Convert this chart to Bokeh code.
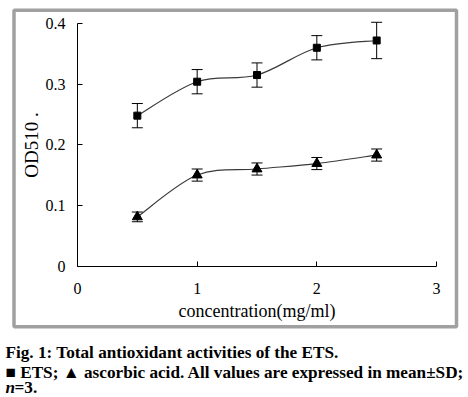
from bokeh.plotting import figure
from bokeh.models import (Range1d, Whisker, TeeHead, ColumnDataSource, Label,
                          FixedTicker, NumeralTickFormatter)
from bokeh.embed import file_html
from bokeh.resources import INLINE

# ---- data ----
conc = [0.5, 1.0, 1.5, 2.0, 2.5]
ets_mean = [0.248, 0.304, 0.315, 0.360, 0.372]
ets_sd = [0.020, 0.020, 0.020, 0.020, 0.030]
asc_mean = [0.081, 0.150, 0.160, 0.169, 0.183]
asc_sd = [0.008, 0.010, 0.010, 0.010, 0.010]
x_ticks = [0, 1, 2, 3]
y_ticks = [0, 0.1, 0.2, 0.3, 0.4]
x_label = "concentration(mg/ml)"
y_label = "OD510 ."
caption1 = "Fig. 1: Total antioxidant activities of the ETS."
caption2 = "\u25a0 ETS; \u25b2 ascorbic acid. All values are expressed in mean\u00b1SD;"
caption3a = "n"
caption3b = "=3."

SERIF = "Liberation Serif"

# ---- layout (canvas pixels) ----
W, H = 468, 397
AX_LEFT, AX_RIGHT = 77.0, 436.0     # pixel of x=0 and x=3
AX_BOTTOM, AX_TOP = 265.5, 23.0     # pixel of y=0 and y=0.4
X0, X1 = x_ticks[0], x_ticks[-1]
Y0, Y1 = y_ticks[0], y_ticks[-1]
sx = (AX_RIGHT - AX_LEFT) / (X1 - X0)
sy = (AX_BOTTOM - AX_TOP) / (Y1 - Y0)
x_range = Range1d(X0 - AX_LEFT / sx, X1 + (W - AX_RIGHT) / sx)
y_range = Range1d(Y0 - (H - AX_BOTTOM) / sy, Y1 + AX_TOP / sy)


def px_x(px):
    return X0 + (px - AX_LEFT) / sx


def px_y(py):
    return Y0 + (AX_BOTTOM - py) / sy


p = figure(width=W, height=H, output_backend="svg", toolbar_location=None,
           title=None, x_range=x_range, y_range=y_range,
           min_border_left=0, min_border_right=0, min_border_top=0,
           min_border_bottom=0)
p.outline_line_color = None
p.grid.visible = False
p.background_fill_color = "white"
p.border_fill_color = "white"

for ax in (p.xaxis[0], p.yaxis[0]):
    ax.fixed_location = 0
    ax.axis_line_color = "black"
    ax.axis_line_width = 1
    ax.major_tick_in = 5
    ax.major_tick_out = 0
    ax.minor_tick_line_color = None
    ax.major_tick_line_color = "black"
    ax.major_label_text_font = SERIF
    ax.major_label_text_font_size = "16px"
    ax.major_label_text_color = "black"
    ax.axis_label_text_font = SERIF
    ax.axis_label_text_font_style = "normal"
    ax.axis_label_text_color = "black"

p.xaxis.bounds = (X0, X1)
p.yaxis.bounds = (Y0, Y1)
p.xaxis.ticker = FixedTicker(ticks=x_ticks)
p.yaxis.ticker = FixedTicker(ticks=y_ticks)
p.yaxis.formatter = NumeralTickFormatter(format="0.[0]")
p.xaxis.axis_label = x_label
p.yaxis.axis_label = y_label
p.xaxis.axis_label_text_font_size = "18px"
p.yaxis.axis_label_text_font_size = "19px"
p.xaxis.major_label_standoff = 17
p.yaxis.major_label_standoff = 12
p.xaxis.axis_label_standoff = 3
p.yaxis.axis_label_standoff = 1

# gray frame around the chart panel (decoration, drawn first)
p.quad(left=[px_x(13.5)], right=[px_x(456)], top=[px_y(9.7)],
       bottom=[px_y(326.2)], fill_alpha=0, line_color="#a0a0a0", line_width=3.5)


def smooth(xs, ys):
    """Catmull-Rom style bezier segments through the given points."""
    n = len(xs)
    x0, y0, x1, y1, cx0, cy0, cx1, cy1 = [], [], [], [], [], [], [], []
    for i in range(n - 1):
        pa = max(i - 1, 0)
        pd = min(i + 2, n - 1)
        x0.append(xs[i]); y0.append(ys[i])
        x1.append(xs[i + 1]); y1.append(ys[i + 1])
        cx0.append(xs[i] + (xs[i + 1] - xs[pa]) / 6)
        cy0.append(ys[i] + (ys[i + 1] - ys[pa]) / 6)
        cx1.append(xs[i + 1] - (xs[pd] - xs[i]) / 6)
        cy1.append(ys[i + 1] - (ys[pd] - ys[i]) / 6)
    return dict(x0=x0, y0=y0, x1=x1, y1=y1, cx0=cx0, cy0=cy0, cx1=cx1, cy1=cy1)


for mean, sd, marker, msize in ((ets_mean, ets_sd, "square", 7),
                                (asc_mean, asc_sd, "triangle", 10)):
    bz = ColumnDataSource(smooth(conc, mean))
    p.bezier(x0="x0", y0="y0", x1="x1", y1="y1", cx0="cx0", cy0="cy0",
             cx1="cx1", cy1="cy1", source=bz, line_color="#3a3a3a", line_width=1.2)
    src = ColumnDataSource(dict(x=conc, y=mean,
                                upper=[m + s for m, s in zip(mean, sd)],
                                lower=[m - s for m, s in zip(mean, sd)]))
    w = Whisker(source=src, base="x", upper="upper", lower="lower",
                line_color="black", line_width=1,
                upper_head=TeeHead(size=11, line_color="black", line_width=1),
                lower_head=TeeHead(size=11, line_color="black", line_width=1))
    p.add_layout(w)
    p.scatter(x="x", y="y", source=src, marker=marker, size=msize,
              fill_color="black", line_color="black")

cap_kw = dict(x_units="canvas", y_units="canvas", text_font=SERIF,
              text_font_size="17.2px", text_font_style="bold", text_color="black",
              text_baseline="alphabetic")
p.add_layout(Label(x=5, y=351.5, text=caption1, **cap_kw))
p.add_layout(Label(x=5, y=371.5, text=caption2, **cap_kw))
l3 = Label(x=5, y=387, text=caption3a, **cap_kw)
l3.text_font_style = "bold italic"
p.add_layout(l3)
p.add_layout(Label(x=14, y=387, text=caption3b, **cap_kw))

open("out.html", "w").write(file_html(p, INLINE))
